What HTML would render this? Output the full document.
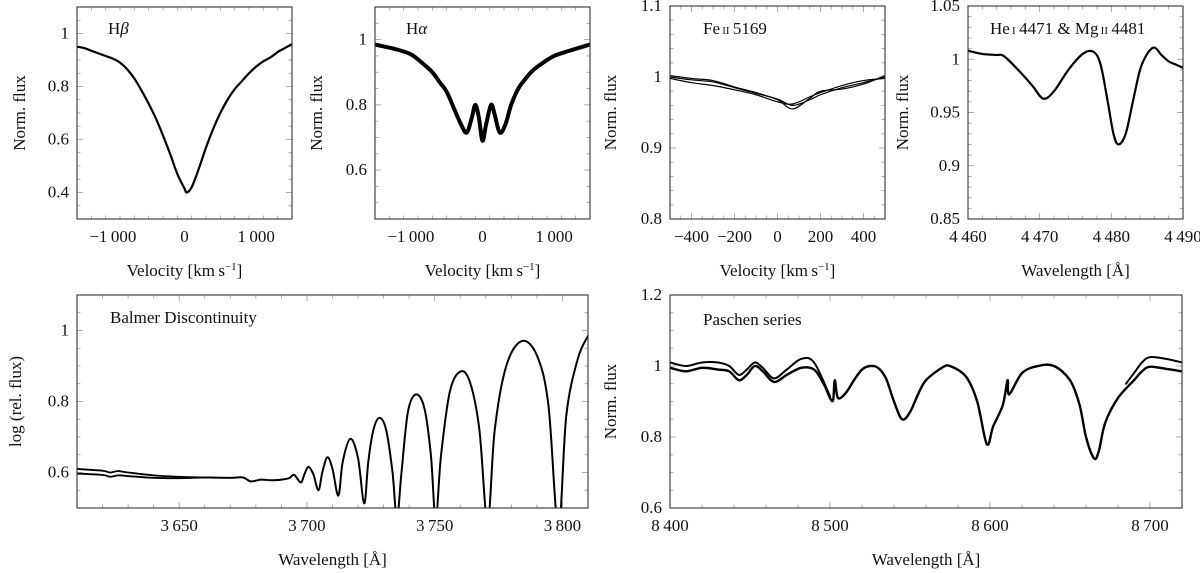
<!DOCTYPE html>
<html><head><meta charset="utf-8">
<style>
html,body{margin:0;padding:0;background:#fff;}
svg{display:block;font-family:"Liberation Serif","DejaVu Serif",serif;}
text{fill:#111;}
</style></head>
<body>
<svg id="fig" width="1200" height="573" viewBox="0 0 1200 573" xmlns="http://www.w3.org/2000/svg"></svg>
<script>
// ---------- data ----------
const hbVel = [-1500,-1400,-1300,-1200,-1100,-1000,-900,-800,-700,-600,-500,-400,-300,-200,-100,0,30,100,200,300,400,500,600,700,800,900,1000,1100,1200,1300,1400,1500];
const hbFlux = [0.95,0.945,0.935,0.925,0.915,0.905,0.89,0.865,0.83,0.785,0.735,0.68,0.615,0.545,0.47,0.415,0.40,0.42,0.49,0.57,0.64,0.70,0.75,0.79,0.82,0.85,0.875,0.895,0.91,0.93,0.945,0.96];

const haVel = [-1500,-1200,-1000,-850,-700,-600,-500,-400,-300,-220,-150,-100,-50,0,50,120,170,240,320,400,500,600,700,850,1000,1200,1500];
const haFlux = [0.985,0.97,0.955,0.93,0.9,0.87,0.84,0.79,0.74,0.715,0.76,0.80,0.76,0.69,0.74,0.80,0.77,0.715,0.74,0.80,0.85,0.88,0.905,0.93,0.95,0.965,0.985];

const feVel = [-500,-400,-300,-200,-100,0,70,150,200,300,400,500];
const feFluxA = [1.0,0.996,0.993,0.985,0.977,0.969,0.96,0.968,0.975,0.985,0.992,1.0];
const feFluxB = [0.998,0.992,0.988,0.982,0.975,0.965,0.962,0.972,0.978,0.988,0.995,0.998];
const feFluxC = [1.002,0.998,0.995,0.986,0.978,0.968,0.955,0.97,0.98,0.983,0.99,1.002];

const heWave = [4460,4462,4464,4465,4467,4469,4470.5,4472,4474,4476,4477.5,4478.5,4479.5,4480.3,4481,4482,4483,4484,4485,4486,4487,4488,4489,4490];
const heFlux = [1.008,1.005,1.004,1.003,0.99,0.975,0.963,0.97,0.99,1.005,1.007,0.995,0.96,0.93,0.92,0.93,0.96,0.99,1.005,1.011,1.004,0.998,0.995,0.992];

const bdWave = [3660,3670,3675,3678,3682,3686,3690,3693,3695,3697.6,3699,3700.6,3702.5,3704.5,3706,3708,3710,3712.3,3714,3717,3720,3722.4,3724,3726,3728.4,3731,3733.5,3735.2,3737,3739.5,3742.7,3746,3748.5,3750.4,3752.5,3756,3760.3,3764,3767.5,3770.7,3773.5,3778,3784,3790,3794.5,3798.4,3801.5,3806,3810];
const bdFlux = [0.586,0.585,0.586,0.575,0.58,0.578,0.58,0.584,0.593,0.572,0.595,0.616,0.595,0.55,0.6,0.643,0.61,0.535,0.63,0.695,0.64,0.513,0.63,0.72,0.754,0.72,0.6,0.47,0.6,0.77,0.82,0.78,0.65,0.47,0.65,0.83,0.885,0.85,0.72,0.46,0.72,0.9,0.97,0.93,0.79,0.44,0.76,0.92,0.985];
const bdLeftWave = [3610,3620,3623,3626,3630,3640,3650,3660];
const bdLeftA = [0.61,0.605,0.6,0.604,0.6,0.592,0.588,0.586];
const bdLeftB = [0.597,0.593,0.588,0.592,0.59,0.585,0.584,0.586];

const paWave = [8400,8410,8420,8430,8437,8443,8448,8453,8458,8465,8473,8482,8490,8496,8500,8502,8503,8505,8510,8515,8520,8525,8530,8535,8540,8545,8550,8555,8560,8570,8575,8585,8592,8598,8602,8608,8611,8612,8620,8630,8640,8650,8656,8660,8665,8668,8672,8680,8690,8695,8700,8710,8720];
const paFlux = [0.995,0.985,0.995,0.99,0.985,0.96,0.975,1.0,0.985,0.955,0.975,0.995,0.99,0.95,0.91,0.905,0.96,0.91,0.925,0.96,0.99,1.0,0.995,0.965,0.9,0.85,0.87,0.92,0.96,0.995,1.0,0.97,0.9,0.78,0.83,0.89,0.96,0.92,0.98,1.0,1.0,0.96,0.89,0.8,0.74,0.76,0.84,0.91,0.96,0.985,0.998,0.992,0.985];
const paUpLeftWave = [8400,8410,8420,8430,8437,8443,8448,8453,8458,8465,8473,8482,8490,8500];
const paUpLeftFlux = [1.01,1.0,1.01,1.01,1.0,0.975,0.99,1.01,0.995,0.965,0.99,1.02,1.01,0.915];
const paUpRightWave = [8685,8690,8695,8700,8710,8720];
const paUpRightFlux = [0.95,0.98,1.01,1.025,1.02,1.01];

// ---------- drawing ----------
const NS = "http://www.w3.org/2000/svg";
const svg = document.getElementById("fig");
function mk(tag, attrs, parent){const e=document.createElementNS(NS,tag);for(const k in attrs)e.setAttribute(k,attrs[k]);(parent||svg).appendChild(e);return e;}
function fmt(v,dec){
  let s = Math.abs(v).toFixed(dec);
  if(dec===0 && Math.abs(v)>=1000){s=s.replace(/\B(?=(\d{3})+(?!\d))/g,"\u2009");}
  if(dec>0){s=s.replace(/0+$/,"").replace(/\.$/,"");}
  return (v<0?"\u2212":"")+s;
}
function smoothPath(P){
  let d="M"+P[0][0].toFixed(2)+","+P[0][1].toFixed(2);
  for(let i=0;i<P.length-1;i++){
    const p0=P[i-1]||P[i], p1=P[i], p2=P[i+1], p3=P[i+2]||P[i+1];
    const t=0.5/3;
    const c1=[p1[0]+(p2[0]-p0[0])*t, p1[1]+(p2[1]-p0[1])*t];
    const c2=[p2[0]-(p3[0]-p1[0])*t, p2[1]-(p3[1]-p1[1])*t];
    d+="C"+c1[0].toFixed(2)+","+c1[1].toFixed(2)+" "+c2[0].toFixed(2)+","+c2[1].toFixed(2)+" "+p2[0].toFixed(2)+","+p2[1].toFixed(2);
  }
  return d;
}
let clipId=0;
function panel(p){
  const g = mk("g",{});
  
  
  const sx = v => p.x0 + (v-p.xmin)/(p.xmax-p.xmin)*(p.x1-p.x0);
  const sy = v => p.y1 - (v-p.ymin)/(p.ymax-p.ymin)*(p.y1-p.y0);
  const tk = mk("g",{stroke:"#999","stroke-width":"0.8"},g);
  
  
  const eps=1e-9;
  for(let v=p.xmin; v<=p.xmax+eps; v+=p.xminor){
    const x=sx(v); if(x<=p.x0+0.5||x>=p.x1-0.5) continue;
    const isMaj = Math.abs(((v-p.xmajor0)/p.xmajor)-Math.round((v-p.xmajor0)/p.xmajor))<1e-6;
    const L = isMaj?6:3.5;
    mk("line",{x1:x,x2:x,y1:p.y1,y2:p.y1-L},tk);
    mk("line",{x1:x,x2:x,y1:p.y0,y2:p.y0+L},tk);
  }
  for(let v=p.ymin; v<=p.ymax+eps; v+=p.yminor){
    const y=sy(v); if(y<=p.y0+0.5||y>=p.y1-0.5) continue;
    const isMaj = Math.abs(((v-p.ymajor0)/p.ymajor)-Math.round((v-p.ymajor0)/p.ymajor))<1e-6;
    const L = isMaj?6:3.5;
    mk("line",{x1:p.x0,x2:p.x0+L,y1:y,y2:y},tk);
    mk("line",{x1:p.x1,x2:p.x1-L,y1:y,y2:y},tk);
  }
  for(let v=p.xmajor0; v<=p.xmax+eps; v+=p.xmajor){
    if(v<p.xmin-eps) continue;
    const t=mk("text",{x:sx(v),y:p.y1+23,"text-anchor":"middle","font-size":"17"},g);
    
    
    t.textContent=fmt(v,0);
  }
  for(let v=p.ymajor0; v<=p.ymax+eps; v+=p.ymajor){
    if(v<p.ymin-eps) continue;
    const t=mk("text",{x:p.x0-8,y:sy(v)+5,"text-anchor":"end","font-size":"17"},g);
    
    
    t.textContent=fmt(v,p.ydec);
  }
  const cid="c"+(clipId++);
  const cp=mk("clipPath",{id:cid},g); mk("rect",{x:p.x0,y:p.y0,width:p.x1-p.x0,height:p.y1-p.y0},cp);
  const sg=mk("g",{"clip-path":"url(#"+cid+")"},g);
  p.series.forEach((s,i)=>{
    const pts=s.x.map((xv,k)=>[sx(xv),sy(s.y[k])]);
    const path=mk("path",{d:smoothPath(pts),fill:"none",stroke:"#000","stroke-width":s.w||1.6,"stroke-linejoin":"round","stroke-linecap":"round"},sg);
    
    
  });
  const fr=mk("rect",{x:p.x0,y:p.y0,width:p.x1-p.x0,height:p.y1-p.y0,fill:"none",stroke:"#333","stroke-width":"1.1"},g);
  
  
  const xt=mk("text",{x:(p.x0+p.x1)/2,y:p.xtY,"text-anchor":"middle","font-size":"17"},g);
  
  
  xt.innerHTML=p.xtitle;
  const yc=(p.y0+p.y1)/2;
  const yt=mk("text",{x:p.ytX,y:yc,"text-anchor":"middle","font-size":"17",transform:"rotate(-90 "+p.ytX+" "+yc+")"},g);
  
  
  yt.textContent=p.ytitle;
  const lb=mk("text",{x:p.lx,y:p.ly,"font-size":"17"},g);
  
  
  lb.innerHTML=p.label;
}
const velTitle='Velocity [km\u2009s<tspan baseline-shift="super" font-size="11">\u22121</tspan>]';
const wlTitle='Wavelength [\u00C5]';
panel({name:"h-beta-panel",x0:77,x1:292,y0:7,y1:219,xmin:-1500,xmax:1500,ymin:0.3,ymax:1.1,xminor:200,xmajor:1000,xmajor0:-1000,yminor:0.05,ymajor:0.2,ymajor0:0.4,ydec:1,
  series:[{x:hbVel,y:hbFlux,w:2.2}],xtitle:velTitle,xtY:276,ytitle:"Norm. flux",ytX:25,label:'H<tspan font-style="italic">β</tspan>',lx:108,ly:34});
panel({name:"h-alpha-panel",x0:375,x1:590,y0:7,y1:219,xmin:-1500,xmax:1500,ymin:0.45,ymax:1.1,xminor:200,xmajor:1000,xmajor0:-1000,yminor:0.05,ymajor:0.2,ymajor0:0.6,ydec:1,
  series:[{x:haVel,y:haFlux,w:4}],xtitle:velTitle,xtY:276,ytitle:"Norm. flux",ytX:322,label:'H<tspan font-style="italic">α</tspan>',lx:406,ly:34});
panel({name:"fe-ii-panel",x0:670,x1:885,y0:6,y1:219,xmin:-500,xmax:500,ymin:0.8,ymax:1.1,xminor:50,xmajor:200,xmajor0:-400,yminor:0.02,ymajor:0.1,ymajor0:0.8,ydec:1,
  series:[{x:feVel,y:feFluxA,w:1.2},{x:feVel,y:feFluxB,w:1.2},{x:feVel,y:feFluxC,w:1.2}],xtitle:velTitle,xtY:276,ytitle:"Norm. flux",ytX:616,label:'Fe<tspan font-size="11">\u2009II</tspan>\u20095169',lx:703,ly:34});
panel({name:"he-mg-panel",x0:968,x1:1183,y0:6,y1:219,xmin:4460,xmax:4490,ymin:0.85,ymax:1.05,xminor:2,xmajor:10,xmajor0:4460,yminor:0.01,ymajor:0.05,ymajor0:0.85,ydec:2,
  series:[{x:heWave,y:heFlux,w:2.2}],xtitle:wlTitle,xtY:276,ytitle:"Norm. flux",ytX:908,label:'He<tspan font-size="11">\u2009I</tspan>\u20094471 &amp; Mg<tspan font-size="11">\u2009II</tspan>\u20094481',lx:990,ly:34});
panel({name:"balmer-panel",x0:77,x1:588,y0:295,y1:508,xmin:3610,xmax:3810,ymin:0.5,ymax:1.1,xminor:10,xmajor:50,xmajor0:3650,yminor:0.05,ymajor:0.2,ymajor0:0.6,ydec:1,
  series:[{x:bdWave,y:bdFlux,w:2},{x:bdLeftWave,y:bdLeftA,w:1.8},{x:bdLeftWave,y:bdLeftB,w:1.8}],xtitle:wlTitle,xtY:565,ytitle:"log (rel. flux)",ytX:21,label:'Balmer Discontinuity',lx:110,ly:323});
panel({name:"paschen-panel",x0:670,x1:1182,y0:295,y1:508,xmin:8400,xmax:8720,ymin:0.6,ymax:1.2,xminor:20,xmajor:100,xmajor0:8400,yminor:0.05,ymajor:0.2,ymajor0:0.6,ydec:1,
  series:[{x:paWave,y:paFlux,w:2.4},{x:paUpLeftWave,y:paUpLeftFlux,w:2},{x:paUpRightWave,y:paUpRightFlux,w:2}],xtitle:wlTitle,xtY:565,ytitle:"Norm. flux",ytX:616,label:'Paschen series',lx:703,ly:325});
</script>
</body></html>
